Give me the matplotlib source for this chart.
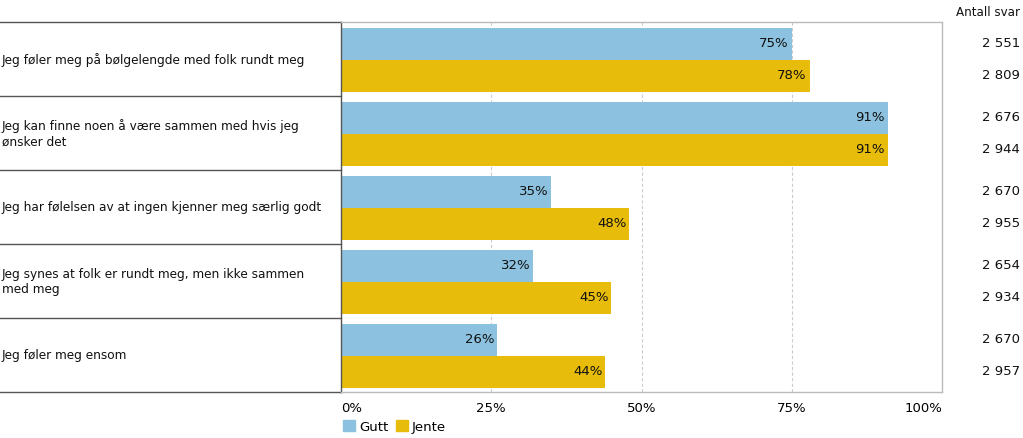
import numpy as np
import matplotlib.pyplot as plt
from matplotlib.patches import Patch

categories = [
    'Jeg føler meg på bølgelengde med folk rundt meg',
    'Jeg kan finne noen å være sammen med hvis jeg\nønsker det',
    'Jeg har følelsen av at ingen kjenner meg særlig godt',
    'Jeg synes at folk er rundt meg, men ikke sammen\nmed meg',
    'Jeg føler meg ensom',
]
gutt = [75, 91, 35, 32, 26]
jente = [78, 91, 48, 45, 44]
n_gutt = ['2 551', '2 676', '2 670', '2 654', '2 670']
n_jente = ['2 809', '2 944', '2 955', '2 934', '2 957']
xticks = [0, 25, 50, 75, 100]

c_gutt = '#8cc2df'
c_jente = '#e8bc0a'
fs = 9.5
fs_cat = 8.7

plt.rcParams['font.family'] = ['DejaVu Sans']

W, H = 1023, 438
fig = plt.figure(figsize=(W / 100, H / 100), dpi=100)
x0, x1, y0, y1 = 341, 942, 22, 392
ax = fig.add_axes([x0 / W, 1 - y1 / H, (x1 - x0) / W, (y1 - y0) / H])

y = np.arange(len(categories))
bh = 0.43
off = 0.01
ax.barh(y - bh / 2 + off, gutt, height=bh, color=c_gutt, zorder=2)
ax.barh(y + bh / 2 + off, jente, height=bh, color=c_jente, zorder=2)

for i in range(len(categories)):
    ax.text(gutt[i] - 0.5, y[i] - bh / 2 + off, f'{gutt[i]}%', ha='right', va='center',
            fontsize=fs, color='#111111', zorder=3)
    ax.text(jente[i] - 0.5, y[i] + bh / 2 + off, f'{jente[i]}%', ha='right', va='center',
            fontsize=fs, color='#111111', zorder=3)

ax.set_xlim(0, 100)
ax.set_ylim(len(categories) - 0.5, -0.5)
ax.set_yticks([])
ax.set_xticks(xticks)
ax.set_xticklabels([f'{t}%' for t in xticks], fontsize=fs)
ax.tick_params(axis='x', length=0, pad=7)
ticklabels = ax.get_xticklabels()
ticklabels[0].set_ha('left')
ticklabels[-1].set_ha('right')
for t in xticks[1:-1]:
    ax.axvline(t, color='#cccccc', linestyle=(0, (3, 2)), linewidth=0.8, zorder=1)

for s in ['top', 'right', 'bottom']:
    ax.spines[s].set_color('#bbbbbb')
    ax.spines[s].set_linewidth(1)
ax.spines['left'].set_color('#555555')
ax.spines['left'].set_linewidth(1)

# left label table
tr = ax.get_yaxis_transform()
xl = -x0 / (x1 - x0)
for b in np.arange(len(categories) + 1) - 0.5:
    ax.plot([xl, 0], [b, b], transform=tr, color='#555555', linewidth=1, clip_on=False)
for i, cat in enumerate(categories):
    ax.text(xl + 0.003, y[i] + 0.01, cat, transform=tr, ha='left', va='center',
            fontsize=fs_cat, color='#111111', linespacing=1.2)

# response counts column
xr = (1020 - x0) / (x1 - x0)
for i in range(len(categories)):
    ax.text(xr, y[i] - bh / 2 + off, n_gutt[i], transform=tr, ha='right', va='center',
            fontsize=fs, color='#111111')
    ax.text(xr, y[i] + bh / 2 + off, n_jente[i], transform=tr, ha='right', va='center',
            fontsize=fs, color='#111111')
fig.text(1020 / W, 1 - 12 / H, 'Antall svar', ha='right', va='center', fontsize=8.6, color='#111111')

handles = [Patch(color=c_gutt, label='Gutt'), Patch(color=c_jente, label='Jente')]
fig.legend(handles=handles, loc='center left', bbox_to_anchor=(338 / W, 1 - 427 / H),
           ncol=2, frameon=False, fontsize=fs, handlelength=0.9, handleheight=0.9,
           handletextpad=0.3, columnspacing=0.6, borderaxespad=0)

fig.savefig('out.png', dpi=100)
